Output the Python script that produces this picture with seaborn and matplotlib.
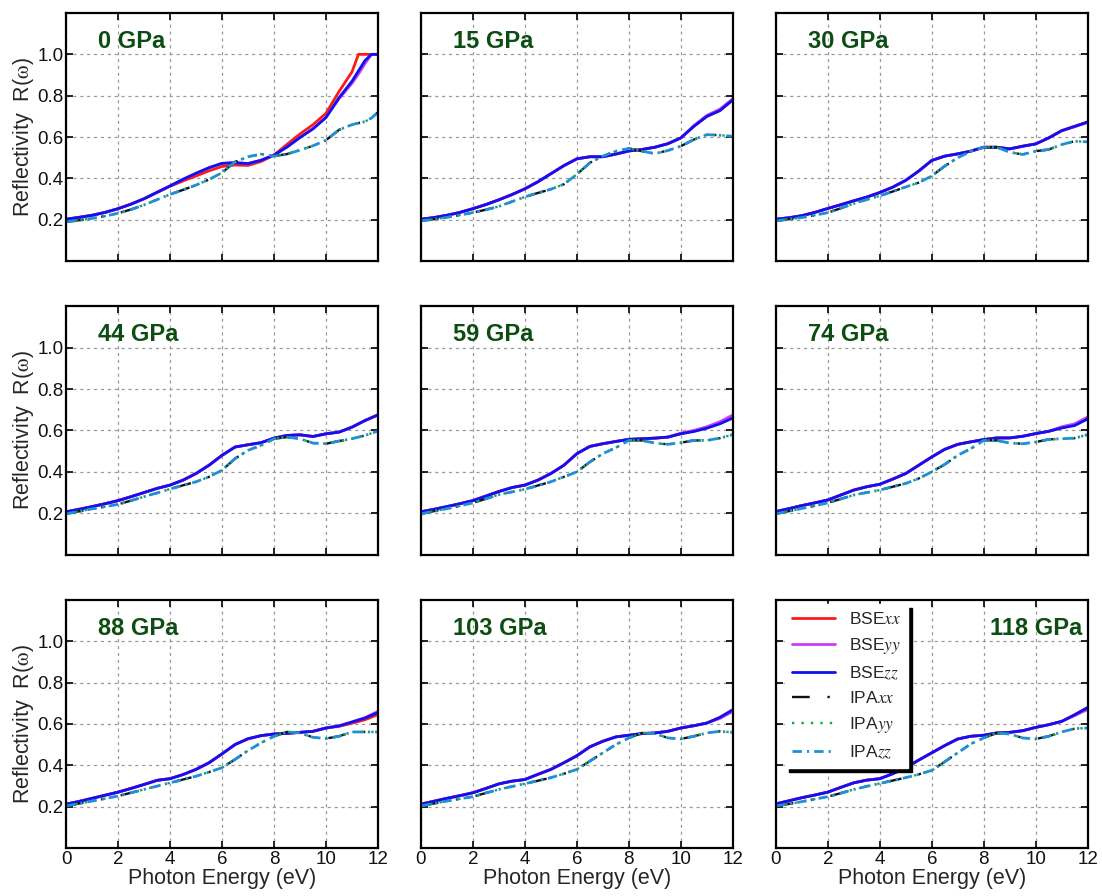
import matplotlib
matplotlib.use("Agg")
import matplotlib.pyplot as plt
import pandas as pd
import seaborn as sns

# Photon energy grid (eV); the 0 GPa set has extra points near the saturation at R = 1
energy = [0.0, 0.5, 1.0, 1.5, 2.0, 2.5, 3.0, 3.5, 4.0, 4.5, 5.0, 5.5, 6.0,
          6.5, 7.0, 7.5, 8.0, 8.5, 9.0, 9.5, 10.0, 10.5, 11.0, 11.5, 12.0]
energy_0gpa = [0.0, 0.5, 1.0, 1.5, 2.0, 2.5, 3.0, 3.5, 4.0, 4.5, 5.0, 5.5, 6.0,
               6.5, 7.0, 7.5, 8.0, 8.5, 9.0, 9.5, 10.0, 10.5, 11.0, 11.25, 11.5,
               11.75, 12.0]

pressures = ["0 GPa", "15 GPa", "30 GPa", "44 GPa", "59 GPa", "74 GPa",
             "88 GPa", "103 GPa", "118 GPa"]

# ---- 0 GPa ----
bse_xx_0 = [0.203, 0.212, 0.222, 0.236, 0.254, 0.276, 0.302, 0.333, 0.362, 0.388,
            0.412, 0.437, 0.458, 0.465, 0.463, 0.482, 0.513, 0.565, 0.615, 0.660,
            0.715, 0.820, 0.915, 1.000, 1.000, 1.000, 1.000]
bse_yy_0 = [0.203, 0.212, 0.222, 0.236, 0.254, 0.276, 0.302, 0.333, 0.364, 0.396,
            0.425, 0.452, 0.473, 0.476, 0.472, 0.488, 0.513, 0.552, 0.598, 0.640,
            0.695, 0.785, 0.860, 0.905, 0.955, 1.000, 1.000]
bse_zz_0 = [0.203, 0.212, 0.222, 0.236, 0.254, 0.276, 0.302, 0.333, 0.364, 0.396,
            0.425, 0.452, 0.473, 0.476, 0.472, 0.488, 0.513, 0.552, 0.598, 0.640,
            0.695, 0.790, 0.870, 0.920, 0.970, 1.000, 1.000]
ipa_0 = [0.190, 0.198, 0.207, 0.218, 0.232, 0.250, 0.272, 0.298, 0.323, 0.345,
         0.368, 0.395, 0.428, 0.480, 0.505, 0.518, 0.508, 0.518, 0.537, 0.558,
         0.585, 0.635, 0.660, 0.668, 0.675, 0.692, 0.720]

# ---- 15 GPa ----
bse_xx_15 = [0.203, 0.211, 0.222, 0.236, 0.254, 0.274, 0.297, 0.322, 0.350, 0.384,
             0.423, 0.462, 0.495, 0.505, 0.505, 0.518, 0.533, 0.540, 0.551, 0.568,
             0.596, 0.652, 0.700, 0.728, 0.780]
bse_yy_15 = [0.203, 0.211, 0.222, 0.236, 0.254, 0.274, 0.297, 0.322, 0.350, 0.384,
             0.423, 0.462, 0.495, 0.505, 0.505, 0.518, 0.533, 0.540, 0.551, 0.568,
             0.596, 0.655, 0.705, 0.735, 0.785]
bse_zz_15 = [0.203, 0.211, 0.222, 0.236, 0.254, 0.274, 0.297, 0.322, 0.350, 0.384,
             0.423, 0.462, 0.495, 0.505, 0.505, 0.518, 0.533, 0.540, 0.551, 0.568,
             0.596, 0.652, 0.700, 0.728, 0.780]
ipa_15 = [0.195, 0.203, 0.212, 0.223, 0.235, 0.249, 0.265, 0.288, 0.311, 0.330,
          0.348, 0.372, 0.420, 0.476, 0.508, 0.532, 0.545, 0.532, 0.520, 0.535,
          0.556, 0.588, 0.612, 0.609, 0.604]

# ---- 30 GPa ----
bse_xx_30 = [0.203, 0.210, 0.220, 0.236, 0.255, 0.273, 0.292, 0.310, 0.332, 0.358,
             0.391, 0.436, 0.487, 0.508, 0.519, 0.532, 0.551, 0.551, 0.543, 0.556,
             0.567, 0.596, 0.631, 0.652, 0.673]
bse_yy_30 = [0.203, 0.210, 0.220, 0.236, 0.255, 0.273, 0.292, 0.310, 0.332, 0.358,
             0.391, 0.436, 0.487, 0.508, 0.519, 0.532, 0.551, 0.551, 0.543, 0.556,
             0.567, 0.596, 0.631, 0.650, 0.670]
bse_zz_30 = [0.203, 0.210, 0.220, 0.236, 0.255, 0.273, 0.292, 0.310, 0.332, 0.358,
             0.391, 0.436, 0.487, 0.508, 0.519, 0.532, 0.551, 0.551, 0.543, 0.556,
             0.567, 0.596, 0.631, 0.652, 0.673]
ipa_30 = [0.195, 0.203, 0.211, 0.222, 0.235, 0.256, 0.279, 0.298, 0.316, 0.337,
          0.359, 0.380, 0.412, 0.460, 0.500, 0.532, 0.551, 0.551, 0.527, 0.516,
          0.532, 0.540, 0.564, 0.580, 0.577]

# ---- 44 GPa ----
bse_xx_44 = [0.207, 0.219, 0.232, 0.246, 0.261, 0.280, 0.300, 0.320, 0.336, 0.360,
             0.392, 0.432, 0.480, 0.520, 0.531, 0.541, 0.563, 0.576, 0.579, 0.571,
             0.584, 0.592, 0.616, 0.648, 0.675]
bse_yy_44 = [0.207, 0.219, 0.232, 0.246, 0.261, 0.280, 0.300, 0.320, 0.336, 0.360,
             0.392, 0.432, 0.480, 0.520, 0.531, 0.541, 0.563, 0.576, 0.579, 0.571,
             0.584, 0.592, 0.616, 0.648, 0.677]
bse_zz_44 = [0.207, 0.219, 0.232, 0.246, 0.261, 0.280, 0.300, 0.320, 0.336, 0.360,
             0.392, 0.432, 0.480, 0.520, 0.531, 0.541, 0.563, 0.576, 0.579, 0.571,
             0.584, 0.592, 0.616, 0.648, 0.675]
ipa_44 = [0.197, 0.209, 0.221, 0.232, 0.243, 0.261, 0.280, 0.298, 0.317, 0.335,
          0.352, 0.376, 0.408, 0.464, 0.504, 0.528, 0.560, 0.568, 0.560, 0.539,
          0.536, 0.549, 0.560, 0.576, 0.597]

# ---- 59 GPa ----
bse_xx_59 = [0.207, 0.219, 0.232, 0.246, 0.261, 0.283, 0.305, 0.324, 0.336, 0.360,
             0.392, 0.432, 0.488, 0.523, 0.536, 0.547, 0.557, 0.560, 0.563, 0.568,
             0.585, 0.598, 0.614, 0.638, 0.668]
bse_yy_59 = [0.207, 0.219, 0.232, 0.246, 0.261, 0.283, 0.305, 0.324, 0.336, 0.360,
             0.392, 0.432, 0.488, 0.523, 0.536, 0.547, 0.557, 0.560, 0.563, 0.568,
             0.587, 0.600, 0.618, 0.642, 0.675]
bse_zz_59 = [0.207, 0.219, 0.232, 0.246, 0.261, 0.283, 0.305, 0.324, 0.336, 0.360,
             0.392, 0.432, 0.488, 0.523, 0.536, 0.547, 0.557, 0.560, 0.563, 0.568,
             0.584, 0.595, 0.611, 0.632, 0.660]
ipa_59 = [0.197, 0.210, 0.222, 0.236, 0.250, 0.270, 0.290, 0.303, 0.316, 0.334,
          0.352, 0.376, 0.400, 0.448, 0.488, 0.517, 0.552, 0.552, 0.539, 0.533,
          0.541, 0.552, 0.552, 0.563, 0.580]

# ---- 74 GPa ----
bse_xx_74 = [0.208, 0.222, 0.237, 0.250, 0.264, 0.288, 0.312, 0.328, 0.340, 0.365,
             0.392, 0.432, 0.472, 0.509, 0.533, 0.545, 0.556, 0.564, 0.564, 0.572,
             0.585, 0.596, 0.614, 0.628, 0.660]
bse_yy_74 = [0.208, 0.222, 0.237, 0.250, 0.264, 0.288, 0.312, 0.328, 0.340, 0.365,
             0.392, 0.432, 0.472, 0.509, 0.533, 0.545, 0.556, 0.564, 0.564, 0.572,
             0.585, 0.596, 0.618, 0.632, 0.665]
bse_zz_74 = [0.208, 0.222, 0.237, 0.250, 0.264, 0.288, 0.312, 0.328, 0.340, 0.365,
             0.392, 0.432, 0.472, 0.509, 0.533, 0.545, 0.556, 0.564, 0.564, 0.572,
             0.585, 0.596, 0.612, 0.624, 0.656]
ipa_74 = [0.197, 0.210, 0.223, 0.236, 0.250, 0.269, 0.288, 0.300, 0.312, 0.328,
          0.344, 0.368, 0.400, 0.436, 0.480, 0.512, 0.552, 0.552, 0.539, 0.536,
          0.544, 0.557, 0.560, 0.563, 0.580]

# ---- 88 GPa ----
bse_xx_88 = [0.212, 0.225, 0.240, 0.255, 0.270, 0.288, 0.307, 0.327, 0.335, 0.355,
             0.380, 0.412, 0.455, 0.500, 0.528, 0.543, 0.551, 0.554, 0.559, 0.564,
             0.580, 0.588, 0.603, 0.620, 0.645]
bse_yy_88 = [0.212, 0.225, 0.240, 0.255, 0.270, 0.288, 0.307, 0.327, 0.335, 0.355,
             0.380, 0.412, 0.455, 0.500, 0.528, 0.543, 0.551, 0.554, 0.559, 0.564,
             0.580, 0.590, 0.609, 0.630, 0.660]
bse_zz_88 = [0.212, 0.225, 0.240, 0.255, 0.270, 0.288, 0.307, 0.327, 0.335, 0.355,
             0.380, 0.412, 0.455, 0.500, 0.528, 0.543, 0.551, 0.554, 0.559, 0.564,
             0.580, 0.590, 0.609, 0.628, 0.655]
ipa_88 = [0.203, 0.215, 0.227, 0.239, 0.251, 0.267, 0.283, 0.299, 0.315, 0.331,
          0.347, 0.367, 0.388, 0.428, 0.471, 0.508, 0.540, 0.561, 0.556, 0.535,
          0.529, 0.540, 0.561, 0.561, 0.561]

# ---- 103 GPa ----
bse_xx_103 = [0.212, 0.226, 0.240, 0.253, 0.267, 0.288, 0.310, 0.323, 0.331, 0.356,
              0.380, 0.412, 0.446, 0.489, 0.516, 0.537, 0.545, 0.553, 0.556, 0.564,
              0.580, 0.591, 0.604, 0.631, 0.668]
bse_yy_103 = [0.212, 0.226, 0.240, 0.253, 0.267, 0.288, 0.310, 0.323, 0.331, 0.356,
              0.380, 0.412, 0.446, 0.489, 0.516, 0.537, 0.545, 0.553, 0.556, 0.564,
              0.580, 0.591, 0.604, 0.626, 0.660]
bse_zz_103 = [0.212, 0.226, 0.240, 0.253, 0.267, 0.288, 0.310, 0.323, 0.331, 0.356,
              0.380, 0.412, 0.446, 0.489, 0.516, 0.537, 0.545, 0.553, 0.556, 0.564,
              0.580, 0.591, 0.604, 0.631, 0.668]
ipa_103 = [0.203, 0.215, 0.227, 0.238, 0.248, 0.266, 0.283, 0.297, 0.311, 0.325,
           0.340, 0.359, 0.380, 0.420, 0.460, 0.500, 0.532, 0.556, 0.553, 0.532,
           0.527, 0.540, 0.556, 0.564, 0.559]

# ---- 118 GPa ----
bse_xx_118 = [0.213, 0.228, 0.243, 0.256, 0.270, 0.293, 0.315, 0.328, 0.335, 0.359,
              0.388, 0.425, 0.460, 0.495, 0.527, 0.540, 0.545, 0.556, 0.559, 0.567,
              0.583, 0.596, 0.612, 0.644, 0.679]
bse_yy_118 = [0.213, 0.228, 0.243, 0.256, 0.270, 0.293, 0.315, 0.328, 0.335, 0.359,
              0.388, 0.425, 0.460, 0.495, 0.527, 0.540, 0.545, 0.556, 0.559, 0.567,
              0.583, 0.596, 0.612, 0.640, 0.670]
bse_zz_118 = [0.213, 0.228, 0.243, 0.256, 0.270, 0.293, 0.315, 0.328, 0.335, 0.359,
              0.388, 0.425, 0.460, 0.495, 0.527, 0.540, 0.545, 0.556, 0.559, 0.567,
              0.583, 0.596, 0.612, 0.644, 0.679]
ipa_118 = [0.203, 0.213, 0.224, 0.236, 0.248, 0.265, 0.283, 0.298, 0.312, 0.326,
           0.340, 0.356, 0.375, 0.417, 0.460, 0.503, 0.532, 0.556, 0.551, 0.532,
           0.527, 0.540, 0.561, 0.577, 0.580]

x_ticks = [0, 2, 4, 6, 8, 10, 12]
y_ticks = [0.2, 0.4, 0.6, 0.8, 1.0]

# The three IPA tensor components coincide, so they share one curve per pressure
panels = [
    (pressures[0], energy_0gpa, bse_xx_0, bse_yy_0, bse_zz_0, ipa_0),
    (pressures[1], energy, bse_xx_15, bse_yy_15, bse_zz_15, ipa_15),
    (pressures[2], energy, bse_xx_30, bse_yy_30, bse_zz_30, ipa_30),
    (pressures[3], energy, bse_xx_44, bse_yy_44, bse_zz_44, ipa_44),
    (pressures[4], energy, bse_xx_59, bse_yy_59, bse_zz_59, ipa_59),
    (pressures[5], energy, bse_xx_74, bse_yy_74, bse_zz_74, ipa_74),
    (pressures[6], energy, bse_xx_88, bse_yy_88, bse_zz_88, ipa_88),
    (pressures[7], energy, bse_xx_103, bse_yy_103, bse_zz_103, ipa_103),
    (pressures[8], energy, bse_xx_118, bse_yy_118, bse_zz_118, ipa_118),
]

rows = []
for p, e, bxx, byy, bzz, ipa in panels:
    for comp, vals in (("BSE_xx", bxx), ("BSE_yy", byy), ("BSE_zz", bzz),
                       ("IPA_xx", ipa), ("IPA_yy", ipa), ("IPA_zz", ipa)):
        for x, r in zip(e, vals):
            rows.append({"pressure": p, "component": comp, "energy": x, "R": r})
df = pd.DataFrame(rows)

styles = {
    "BSE_xx": dict(color="#ff1a1a", lw=2.0, ls="-", label=r"BSE$\mathit{xx}$"),
    "BSE_yy": dict(color="#cc3ef0", lw=2.0, ls="-", label=r"BSE$\mathit{yy}$"),
    "BSE_zz": dict(color="#1010f0", lw=2.0, ls="-", label=r"BSE$\mathit{zz}$"),
    "IPA_xx": dict(color="#111111", lw=1.7, ls=(0, (7.5, 7.5, 1.0, 7.5)), label=r"IPA$\mathit{xx}$"),
    "IPA_yy": dict(color="#1fa24a", lw=1.7, ls=(0, (1.0, 3.0)), label=r"IPA$\mathit{yy}$"),
    "IPA_zz": dict(color="#1f8fd8", lw=2.0, ls=(0, (3.4, 1.8, 0.8, 1.8)), label=r"IPA$\mathit{zz}$"),
}
order = ["BSE_xx", "BSE_yy", "BSE_zz", "IPA_xx", "IPA_yy", "IPA_zz"]

sns.set_theme(style="ticks")
plt.rcParams["font.family"] = ["Liberation Sans", "DejaVu Sans"]
plt.rcParams["mathtext.fontset"] = "stix"

fig, axes = plt.subplots(3, 3, figsize=(11.02, 8.96), dpi=100,
                         sharex=True, sharey=True)
fig.subplots_adjust(left=0.06, right=0.987, bottom=0.0536, top=0.9855,
                    wspace=0.138, hspace=0.182)

for i, (ax, p) in enumerate(zip(axes.flat, pressures)):
    sub = df[df["pressure"] == p]
    for comp in order:
        st = styles[comp]
        sns.lineplot(data=sub[sub["component"] == comp], x="energy", y="R",
                     ax=ax, color=st["color"], lw=st["lw"], linestyle=st["ls"],
                     label=st["label"], errorbar=None, estimator=None,
                     sort=False, legend=False)
    ax.set_xlim(0, 12)
    ax.set_ylim(0, 1.2)
    ax.set_xticks(x_ticks)
    ax.set_yticks(y_ticks)
    ax.set_axisbelow(True)
    ax.grid(True, color="#9a9a9a", linestyle=(0, (2.5, 3.0)), linewidth=0.9)
    ax.tick_params(direction="in", top=True, right=True, length=5, width=1.3,
                   labelsize=13.5, pad=2, colors="#111111")
    for s in ax.spines.values():
        s.set_linewidth(1.6)
        s.set_color("black")
    ax.set_xlabel("Photon Energy (eV)" if i >= 6 else "", fontsize=15.5,
                  labelpad=0)
    ax.set_ylabel(r"Reflectivity  R($\mathrm{\omega}$)" if i % 3 == 0 else "",
                  fontsize=15.5, labelpad=0.5)
    if i == 8:
        ax.text(0.984, 0.885, p, transform=ax.transAxes, ha="right",
                va="center", fontsize=17, fontweight="bold", color="#0c4d12")
    else:
        ax.text(0.103, 0.885, p, transform=ax.transAxes, ha="left",
                va="center", fontsize=17, fontweight="bold", color="#0c4d12")

last = axes.flat[-1]
handles, labels = last.get_legend_handles_labels()
last.legend(handles, labels, loc="upper left", bbox_to_anchor=(0.015, 1.0),
            fontsize=12.5, handlelength=2.5, labelspacing=0.5,
            borderaxespad=0.25, frameon=True, fancybox=False,
            facecolor="white", edgecolor="white", framealpha=1.0,
            shadow={"color": "black", "alpha": 1.0, "ox": 3.0, "oy": -3.0})

fig.savefig("out.png", dpi=100)
